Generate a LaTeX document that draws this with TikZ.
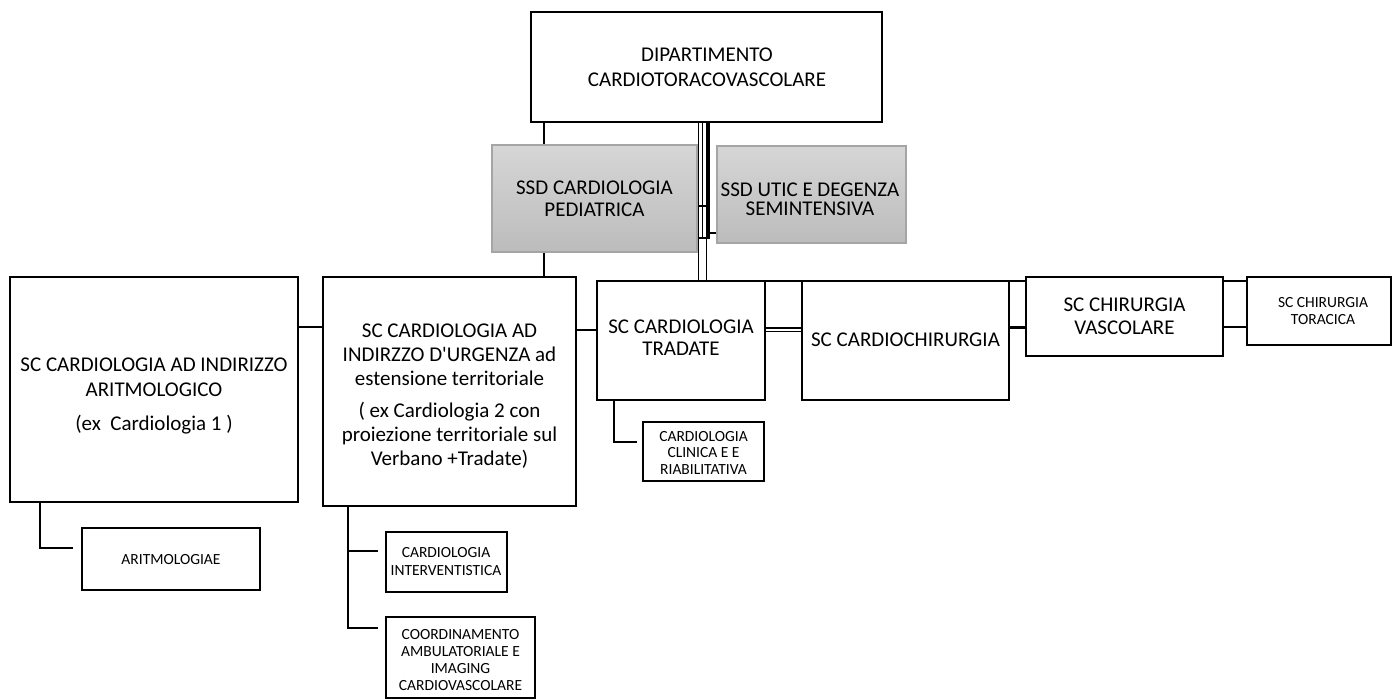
\documentclass[tikz,border=0pt]{standalone}
\usepackage{fontspec}
\setmainfont{Carlito}[Ligatures=TeXOff]
\usetikzlibrary{backgrounds,calc}
\definecolor{gtop}{RGB}{214,214,214}
\definecolor{gbot}{RGB}{188,188,188}
\definecolor{gline}{RGB}{165,165,165}
\begin{document}
\begin{tikzpicture}[x=1pt,y=-1pt,
  box/.style={draw=black, line width=2.4pt, fill=white, inner sep=0pt},
  gbox/.style={draw=gline, line width=1.5pt, top color=gtop, bottom color=gbot, inner sep=0pt},
  txt/.style={align=center, inner sep=0pt},
  big/.style={txt, font=\fontsize{21}{#1}\selectfont},
  small/.style={txt, font=\fontsize{15.5}{#1}\selectfont},
  con/.style={line width=2.4pt},
  thin/.style={line width=1.5pt},
  fat/.style={line width=4pt}]
\useasboundingbox (0,0) rectangle (1392,699);

% boxes
\node[box, minimum width=351, minimum height=110] (top) at (706.5,67) {};
\node[gbox, minimum width=205, minimum height=107] (pedL) at (594.5,198.5) {};
\node[gbox, minimum width=189, minimum height=97] (utic) at (811.5,194.5) {};
\node[box, minimum width=288, minimum height=225] (arit) at (154,389.5) {};
\node[box, minimum width=253, minimum height=229] (urg) at (449.5,391.5) {};
\node[box, minimum width=168, minimum height=119] (trad) at (681,340.5) {};
\node[box, minimum width=207, minimum height=119] (card) at (905.5,340.5) {};
\node[box, minimum width=197, minimum height=79] (vasc) at (1124.5,316.5) {};
\node[box, minimum width=144, minimum height=68] (tor) at (1319,311) {};
\node[box, minimum width=178, minimum height=62] (aritm) at (171,559) {};
\node[box, minimum width=121, minimum height=60] (interv) at (446.5,562) {};
\node[box, minimum width=149, minimum height=81] (coord) at (460.5,657.5) {};
\node[box, minimum width=121, minimum height=59] (clin) at (703.5,451.5) {};

% texts
\node[big=25] (ttop) at (707,67.5) {DIPARTIMENTO\\CARDIOTORACOVASCOLARE};
\node[big=22.5] (tped) at (594.5,198.7) {SSD CARDIOLOGIA\\PEDIATRICA};
\node[big=19] (tutic) at (810,199) {SSD UTIC E DEGENZA\\SEMINTENSIVA};
\node[big=25] (tarit) at (154,395.8) {SC CARDIOLOGIA AD INDIRIZZO\\ARITMOLOGICO\\[9pt](ex\ \ Cardiologia 1 )};
\node[big=24] (turg) at (449.5,396) {SC CARDIOLOGIA AD\\INDIRZZO D'URGENZA ad\\estensione territoriale\\[8pt]( ex Cardiologia 2 con\\proiezione territoriale sul\\Verbano +Tradate)};
\node[big=22] (ttrad) at (681,338) {SC CARDIOLOGIA\\TRADATE};
\node[big=22] (tcard) at (905.5,340) {SC CARDIOCHIRURGIA};
\node[big=23] (tvasc) at (1124.5,316.5) {SC CHIRURGIA\\VASCOLARE};
\node[small=17] (ttor) at (1323,311.5) {SC CHIRURGIA\\TORACICA};
\node[small=17] (taritm) at (171,560) {ARITMOLOGIAE};
\node[small=18] (tinterv) at (446,562) {CARDIOLOGIA\\INTERVENTISTICA};
\node[small=17.3] (tcoord) at (460.5,660) {COORDINAMENTO\\AMBULATORIALE E\\IMAGING\\CARDIOVASCOLARE};
\node[small=16.7] (tclin) at (703.5,452.7) {CARDIOLOGIA\\CLINICA E E\\RIABILITATIVA};

% helper coordinates
\coordinate (vA) at (544,0);
\coordinate (vB) at (698.5,0);
\coordinate (vC) at (702.5,0);
\coordinate (vD) at (708,0);
\coordinate (vE) at (706.5,0);
\coordinate (h206) at (706,206);
\coordinate (h238a) at (698.5,238);
\coordinate (h238b) at (710,238);
\coordinate (h233) at (710,233);
\coordinate (hBus) at (0,281);
\coordinate (hL1) at (0,327);
\coordinate (hL2) at (0,330);
\coordinate (hD1) at (0,328);
\coordinate (hD2) at (0,331.5);
\coordinate (hL3) at (0,327.5);
\coordinate (kA) at (40,548);
\coordinate (eA) at (73,548);
\coordinate (kB1) at (348,551);
\coordinate (eB1) at (378,551);
\coordinate (kB2) at (348,628);
\coordinate (eB2) at (378,628);
\coordinate (kC) at (614,442);
\coordinate (eC) at (637,442);

\begin{scope}[on background layer]
  \draw[con] (top.south -| vA) -- (pedL.north -| vA);
  \draw[con] (pedL.south -| vA) -- (urg.north -| vA);
  \draw[thin] (top.south -| vB) -- (trad.north -| vB);
  \draw[thin] (top.south -| vC) -- (h238a -| vC);
  \draw[fat] (top.south -| vD) -- (h238a -| vD);
  \draw[line width=1.8pt] (h238a -| vE) -- (trad.north -| vE);
  \draw[con] (pedL.east |- h206) -- (h206);
  \draw[con] (h238a) -- (h238b);
  \draw[con] (h233) -- (utic.west |- h233);
  \draw[con] (trad.north east |- hBus) -- (tor.west |- hBus);
  \draw[con] (arit.east |- hL1) -- (urg.west |- hL1);
  \draw[con] (urg.east |- hL2) -- (trad.west |- hL2);
  \draw[thin] (trad.east |- hD1) -- (card.west |- hD1);
  \draw[thin] (trad.east |- hD2) -- (card.west |- hD2);
  \draw[con] (card.east |- hL3) -- (vasc.west |- hL3);
  \draw[con] (vasc.east |- hL1) -- (tor.west |- hL1);
  \draw[con] (arit.south -| kA) -- (kA) -- (eA);
  \draw[con] (urg.south -| kB1) -- (kB2) -- (eB2);
  \draw[con] (kB1) -- (eB1);
  \draw[con] (trad.south -| kC) -- (kC) -- (eC);
\end{scope}
\end{tikzpicture}
\end{document}
